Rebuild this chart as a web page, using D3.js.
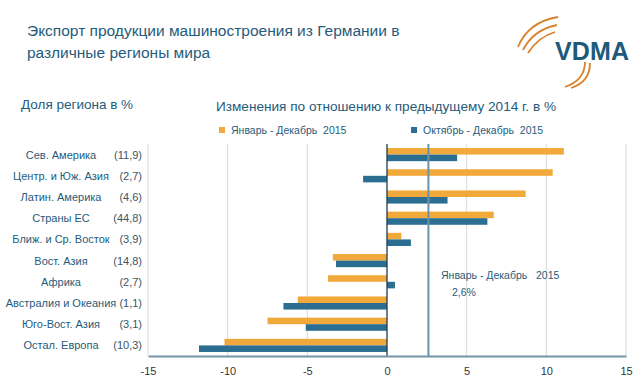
<!DOCTYPE html>
<html>
<head>
<meta charset="utf-8">
<script src="https://cdn.jsdelivr.net/npm/d3@7"></script>
<style>
  body { margin: 0; background: #fff; }
  text { font-family: "Liberation Sans", Arial, sans-serif; white-space: pre; }
</style>
</head>
<body>
<div id="chart"></div>
<script>
// data
const regions = ["Сев. Америка", "Центр. и Юж. Азия", "Латин. Америка", "Страны ЕС", "Ближ. и Ср. Восток",
                 "Вост. Азия", "Африка", "Австралия и Океания", "Юго-Вост. Азия", "Остал. Европа"];
const shares = ["(11,9)", "(2,7)", "(4,6)", "(44,8)", "(3,9)", "(14,8)", "(2,7)", "(1,1)", "(3,1)", "(10,3)"];
const yearValues = [11.1, 10.4, 8.7, 6.7, 0.9, -3.4, -3.7, -5.6, -7.5, -10.2];
const quarterValues = [4.4, -1.5, 3.8, 6.3, 1.5, -3.2, 0.5, -6.5, -5.1, -11.8];
const seriesNames = ["Январь - Декабрь  2015", "Октябрь - Декабрь  2015"];
const xTicks = [-15, -10, -5, 0, 5, 10, 15];
const average = 2.6;

const width = 638, height = 381;
const textColor = "#1f5b7b";
const colors = ["#f2a93b", "#2b6e92"];

const svg = d3.select("#chart").append("svg")
    .attr("width", width)
    .attr("height", height);

// title
const title = svg.append("text")
    .attr("fill", textColor)
    .style("font-size", "15.5px");
title.append("tspan").attr("x", 27).attr("y", 36).text("Экспорт продукции машиностроения из Германии в");
title.append("tspan").attr("x", 27).attr("y", 58).text("различные регионы мира");

// VDMA logo
const logo = svg.append("g");
const arcs = [
  "M518,47 Q528,22 558,17", "M523,50 Q533,30 557,25", "M528,53 Q538,37 555,32",
  "M585,62 Q585,80 565,87", "M590,63 Q590,82 571,88"
];
arcs.forEach(p => logo.append("path").attr("d", p).attr("fill", "none")
    .attr("stroke", "#d9822b").attr("stroke-width", 1.8));
logo.append("text")
    .attr("x", 555).attr("y", 60)
    .attr("fill", "#1e5a79")
    .style("font-size", "25px")
    .style("font-weight", "bold")
    .attr("textLength", 74)
    .text("VDMA");

// headers
svg.append("text").attr("x", 21).attr("y", 109)
    .attr("fill", textColor).style("font-size", "13.5px")
    .text("Доля региона в %");
svg.append("text").attr("x", 216).attr("y", 111)
    .attr("fill", textColor).style("font-size", "13.6px")
    .text("Изменения по отношению к предыдущему 2014 г. в %");

// legend
const legendX = [219, 411];
seriesNames.forEach((name, i) => {
  svg.append("rect").attr("x", legendX[i]).attr("y", 127)
      .attr("width", 6).attr("height", 6).attr("fill", colors[i]);
  svg.append("text").attr("x", legendX[i] + 12).attr("y", 134)
      .attr("fill", textColor).style("font-size", "10.5px")
      .text(name);
});

// scales
const x = d3.scaleLinear().domain([-15, 15]).range([148, 626]);
const y = d3.scaleBand().domain(regions).range([144, 356]).paddingInner(0.38).paddingOuter(0.19);
const sub = d3.scaleBand().domain([0, 1]).range([0, y.bandwidth()]);

// grid
svg.append("g").selectAll("line")
    .data(xTicks.filter(d => d !== 0))
    .enter().append("line")
    .attr("x1", d => x(d)).attr("x2", d => x(d))
    .attr("y1", 144).attr("y2", 356)
    .attr("stroke", "#d9d9d9").attr("stroke-width", 1);

// bars
const rows = regions.map((r, i) => ({region: r, values: [yearValues[i], quarterValues[i]]}));
const g = svg.append("g").selectAll("g")
    .data(rows)
    .enter().append("g")
    .attr("transform", d => "translate(0," + y(d.region) + ")");

g.selectAll("rect")
    .data(d => d.values.map((v, k) => ({v: v, k: k})))
    .enter().append("rect")
    .attr("x", d => x(Math.min(0, d.v)))
    .attr("y", d => sub(d.k))
    .attr("width", d => Math.abs(x(d.v) - x(0)))
    .attr("height", sub.bandwidth())
    .attr("fill", d => colors[d.k]);

// zero line and average line
svg.append("line")
    .attr("x1", x(0)).attr("x2", x(0)).attr("y1", 144).attr("y2", 356)
    .attr("stroke", "#1d3b50").attr("stroke-width", 1.3);
svg.append("line")
    .attr("x1", x(average)).attr("x2", x(average)).attr("y1", 144).attr("y2", 356)
    .attr("stroke", "#6a93ab").attr("stroke-width", 2);

svg.append("text").attr("x", 441).attr("y", 279)
    .attr("fill", textColor).style("font-size", "10.5px")
    .text("Январь - Декабрь   2015");
svg.append("text").attr("x", 452).attr("y", 296)
    .attr("fill", textColor).style("font-size", "10.5px")
    .text(String(average).replace(".", ",") + "%");

// x axis
const xAxis = svg.append("g")
    .attr("transform", "translate(0,356)")
    .call(d3.axisBottom(x).tickValues(xTicks).tickSize(0).tickPadding(11).tickFormat(d => d < 0 ? "-" + Math.abs(d) : d));
xAxis.select(".domain").attr("stroke", "#7393a7").attr("stroke-width", 2);
xAxis.selectAll("text")
    .attr("fill", "#333")
    .style("font-size", "11px")
    .style("font-family", "'Liberation Sans', Arial, sans-serif");

// category labels
svg.append("g").selectAll("text")
    .data(regions)
    .enter().append("text")
    .attr("x", 61)
    .attr("y", d => y(d) + y.bandwidth() / 2 + 4)
    .attr("text-anchor", "middle")
    .attr("fill", textColor)
    .style("font-size", "11px")
    .text(d => d);

svg.append("g").selectAll("text")
    .data(shares)
    .enter().append("text")
    .attr("x", 142)
    .attr("y", (d, i) => y(regions[i]) + y.bandwidth() / 2 + 4)
    .attr("text-anchor", "end")
    .attr("fill", "#3a5566")
    .style("font-size", "11px")
    .text(d => d);
</script>
</body>
</html>
